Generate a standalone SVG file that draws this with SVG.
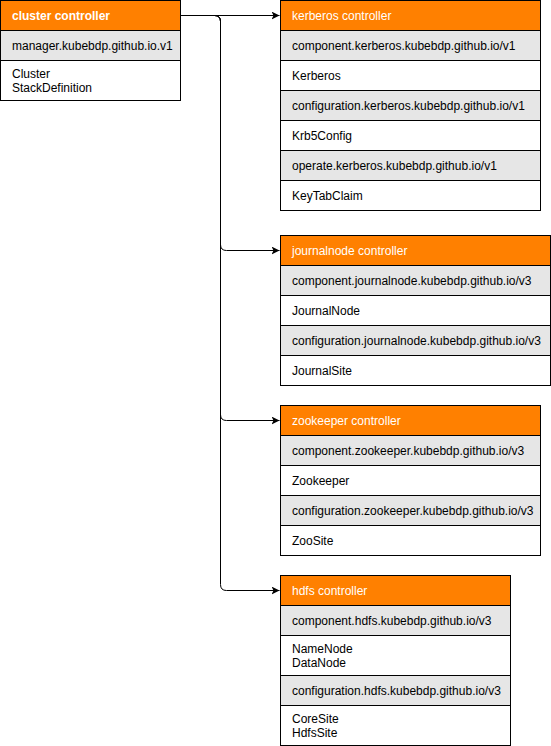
<svg xmlns="http://www.w3.org/2000/svg" width="551" height="746" viewBox="0 0 551 746">
<style>
.hd{fill:#ff8000;stroke:#000;stroke-width:1}
.g{fill:#e6e6e6;stroke:#000;stroke-width:1}
.w{fill:#fff;stroke:#000;stroke-width:1}
text{font-family:"Liberation Sans",Arial,Helvetica,sans-serif;font-size:12px;fill:#000}
.ht{fill:#fff}
.b{font-weight:bold}
.e{fill:none;stroke:#000;stroke-width:1}
</style>
<defs>
<marker id="arr" viewBox="0 0 10 10" refX="10" refY="5" markerWidth="8" markerHeight="8" markerUnits="userSpaceOnUse" orient="auto">
<path d="M0,0 L10,5 L0,10 L2.5,5 Z" fill="#000"/>
</marker>
</defs>
<rect x="0" y="0" width="551" height="746" fill="#fff"/>
<g id="connectors">
<path class="e" d="M180.5,15.5 H279.5" marker-end="url(#arr)"/>
<path class="e" d="M180.5,15.5 H214.5 Q220.5,15.5 220.5,21.5 V244.5 Q220.5,250.5 226.5,250.5 H279.5" marker-end="url(#arr)"/>
<path class="e" d="M180.5,15.5 H214.5 Q220.5,15.5 220.5,21.5 V414.5 Q220.5,420.5 226.5,420.5 H279.5" marker-end="url(#arr)"/>
<path class="e" d="M180.5,15.5 H214.5 Q220.5,15.5 220.5,21.5 V584.5 Q220.5,590.5 226.5,590.5 H279.5" marker-end="url(#arr)"/>
</g>
<g id="cluster">
<rect class="hd" x="0.5" y="0.5" width="180" height="30"/>
<rect class="g" x="0.5" y="30.5" width="180" height="30"/>
<rect class="w" x="0.5" y="60.5" width="180" height="40"/>
<text class="ht b" x="12" y="19.5">cluster controller</text>
<text x="12" y="49.5">manager.kubebdp.github.io.v1</text>
<text x="12" y="77.5">Cluster</text>
<text x="12" y="91.5">StackDefinition</text>
</g>
<g id="kerberos">
<rect class="hd" x="280.5" y="0.5" width="260" height="30"/>
<rect class="g" x="280.5" y="30.5" width="260" height="30"/>
<rect class="w" x="280.5" y="60.5" width="260" height="30"/>
<rect class="g" x="280.5" y="90.5" width="260" height="30"/>
<rect class="w" x="280.5" y="120.5" width="260" height="30"/>
<rect class="g" x="280.5" y="150.5" width="260" height="30"/>
<rect class="w" x="280.5" y="180.5" width="260" height="30"/>
<text class="ht" x="292" y="19.5">kerberos controller</text>
<text x="292" y="49.5">component.kerberos.kubebdp.github.io/v1</text>
<text x="292" y="79.5">Kerberos</text>
<text x="292" y="109.5">configuration.kerberos.kubebdp.github.io/v1</text>
<text x="292" y="139.5">Krb5Config</text>
<text x="292" y="169.5">operate.kerberos.kubebdp.github.io/v1</text>
<text x="292" y="199.5">KeyTabClaim</text>
</g>
<g id="journalnode">
<rect class="hd" x="280.5" y="235.5" width="270" height="30"/>
<rect class="g" x="280.5" y="265.5" width="270" height="30"/>
<rect class="w" x="280.5" y="295.5" width="270" height="30"/>
<rect class="g" x="280.5" y="325.5" width="270" height="30"/>
<rect class="w" x="280.5" y="355.5" width="270" height="30"/>
<text class="ht" x="292" y="254.5">journalnode controller</text>
<text x="292" y="284.5">component.journalnode.kubebdp.github.io/v3</text>
<text x="292" y="314.5">JournalNode</text>
<text x="292" y="344.5">configuration.journalnode.kubebdp.github.io/v3</text>
<text x="292" y="374.5">JournalSite</text>
</g>
<g id="zookeeper">
<rect class="hd" x="280.5" y="405.5" width="260" height="30"/>
<rect class="g" x="280.5" y="435.5" width="260" height="30"/>
<rect class="w" x="280.5" y="465.5" width="260" height="30"/>
<rect class="g" x="280.5" y="495.5" width="260" height="30"/>
<rect class="w" x="280.5" y="525.5" width="260" height="30"/>
<text class="ht" x="292" y="424.5">zookeeper controller</text>
<text x="292" y="454.5">component.zookeeper.kubebdp.github.io/v3</text>
<text x="292" y="484.5">Zookeeper</text>
<text x="292" y="514.5">configuration.zookeeper.kubebdp.github.io/v3</text>
<text x="292" y="544.5">ZooSite</text>
</g>
<g id="hdfs">
<rect class="hd" x="280.5" y="575.5" width="230" height="30"/>
<rect class="g" x="280.5" y="605.5" width="230" height="30"/>
<rect class="w" x="280.5" y="635.5" width="230" height="40"/>
<rect class="g" x="280.5" y="675.5" width="230" height="30"/>
<rect class="w" x="280.5" y="705.5" width="230" height="40"/>
<text class="ht" x="292" y="594.5">hdfs controller</text>
<text x="292" y="624.5">component.hdfs.kubebdp.github.io/v3</text>
<text x="292" y="652.5">NameNode</text>
<text x="292" y="666.5">DataNode</text>
<text x="292" y="694.5">configuration.hdfs.kubebdp.github.io/v3</text>
<text x="292" y="722.5">CoreSite</text>
<text x="292" y="736.5">HdfsSite</text>
</g>
</svg>
